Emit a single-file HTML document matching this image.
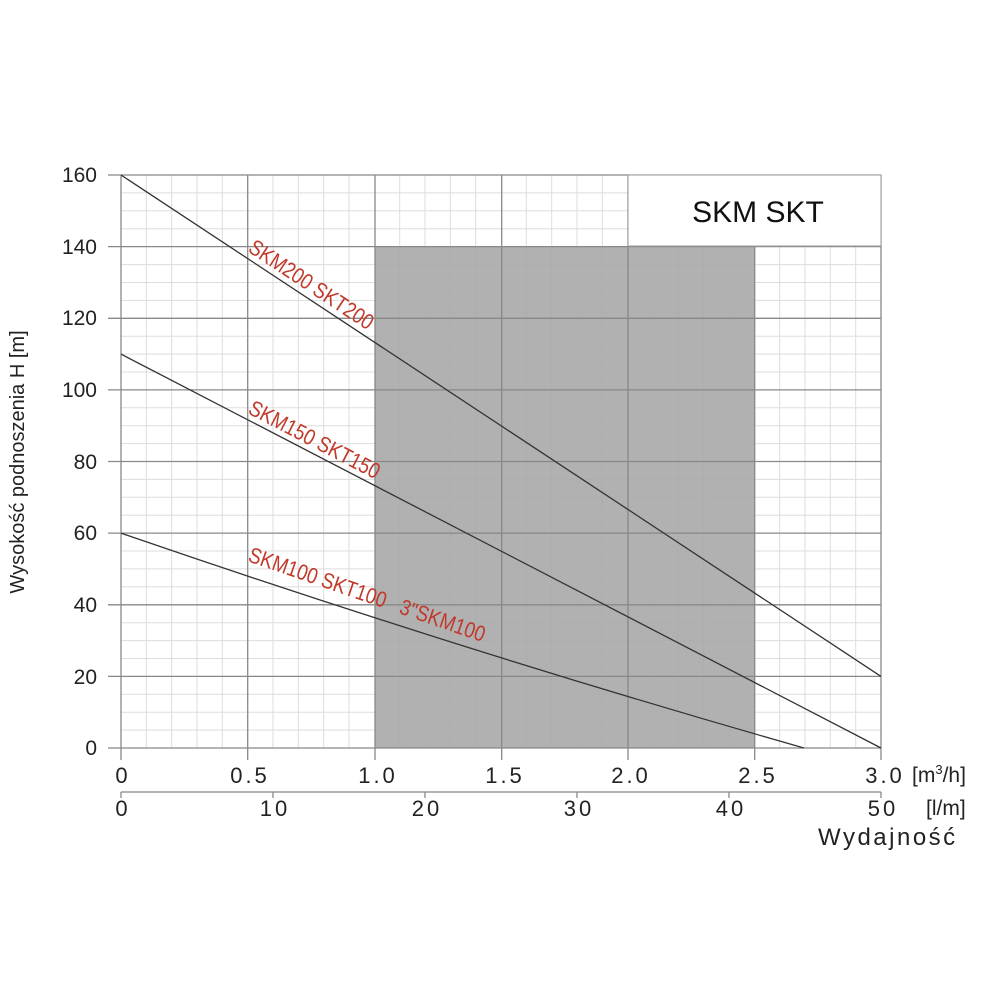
<!DOCTYPE html>
<html><head><style>body{margin:0;background:#fff}svg{display:block}</style></head><body>
<svg width="1000" height="1000" xmlns="http://www.w3.org/2000/svg" font-family="Liberation Sans, sans-serif">
<g stroke="#ddd" stroke-width="1">
<path d="M146.3 175V748M171.7 175V748M197 175V748M222.3 175V748M273 175V748M298.3 175V748M323.7 175V748M349 175V748M399.7 175V748M425 175V748M450.3 175V748M475.7 175V748M526.3 175V748M551.7 175V748M577 175V748M602.3 175V748M653 175V748M678.3 175V748M703.7 175V748M729 175V748M779.7 175V748M805 175V748M830.3 175V748M855.7 175V748"/>
<path d="M121 192.9H881M121 210.8H881M121 228.7H881M121 264.6H881M121 282.5H881M121 300.4H881M121 336.2H881M121 354.1H881M121 372H881M121 407.8H881M121 425.7H881M121 443.6H881M121 479.4H881M121 497.3H881M121 515.2H881M121 551H881M121 568.9H881M121 586.8H881M121 622.7H881M121 640.6H881M121 658.5H881M121 694.3H881M121 712.2H881M121 730.1H881"/>
</g>
<rect x="375" y="246" width="380" height="502" fill="#a9a9a9" fill-opacity="0.9"/>
<g stroke="#888" stroke-width="1.3">
<path d="M121 175V760M247.7 175V760M375 175V760M501.7 175V760M628 175V760M754.7 175V760M881 175V760"/>
<path d="M108 175H881M108 246.6H881M108 318.3H881M108 389.9H881M108 461.5H881M108 533.1H881M108 604.8H881M108 676.4H881M108 748H881"/>
<path d="M121 792H881M121 792V798M273 792V798M425 792V798M577 792V798M729 792V798M881 792V798"/>
</g>
<rect x="628" y="175" width="253" height="71" fill="#fff" stroke="#999"/>
<g stroke="#333" stroke-width="1.3" fill="none">
<path d="M121 175L881 676.4"/>
<path d="M121 354.1L881 748"/>
<path d="M121 533.1Q460 650 804 748"/>
</g>
<g fill="#c0392b" font-size="22">
<text transform="translate(247,251) rotate(33.4) scale(0.85,1)">SKM200 SKT200</text>
<text transform="translate(247,413) rotate(27.4) scale(0.85,1)">SKM150 SKT150</text>
<text transform="translate(247,561) rotate(19) scale(0.85,1)">SKM100 SKT100 &#160;&#160;3"SKM100</text>
</g>
<text x="758" y="222" font-size="30" text-anchor="middle" fill="#111">SKM SKT</text>
<g font-size="21" fill="#222" text-anchor="end">
<text x="97" y="182">160</text><text x="97" y="254">140</text><text x="97" y="325">120</text><text x="97" y="397">100</text><text x="97" y="469">80</text><text x="97" y="540">60</text><text x="97" y="612">40</text><text x="97" y="684">20</text><text x="97" y="755">0</text>
</g>
<g font-size="22" fill="#222" text-anchor="middle" letter-spacing="3">
<text x="123" y="783">0</text><text x="250" y="783">0.5</text><text x="378" y="783">1.0</text><text x="505" y="783">1.5</text><text x="631" y="783">2.0</text><text x="758" y="783">2.5</text><text x="885" y="783">3.0</text>
<text x="123" y="816">0</text><text x="275" y="816">10</text><text x="427" y="816">20</text><text x="579" y="816">30</text><text x="731" y="816">40</text><text x="883" y="816">50</text>
</g>
<text x="912" y="782" font-size="21" fill="#222">[m<tspan font-size="13" dy="-8">3</tspan><tspan dy="8">/h]</tspan></text>
<text x="926" y="815" font-size="21" fill="#222">[l/m]</text>
<text x="818" y="845" font-size="24" fill="#222" letter-spacing="2.5">Wydajność</text>
<text transform="translate(24,462) rotate(-90)" font-size="20" fill="#222" text-anchor="middle">Wysokość podnoszenia H [m]</text>
</svg>
</body></html>
